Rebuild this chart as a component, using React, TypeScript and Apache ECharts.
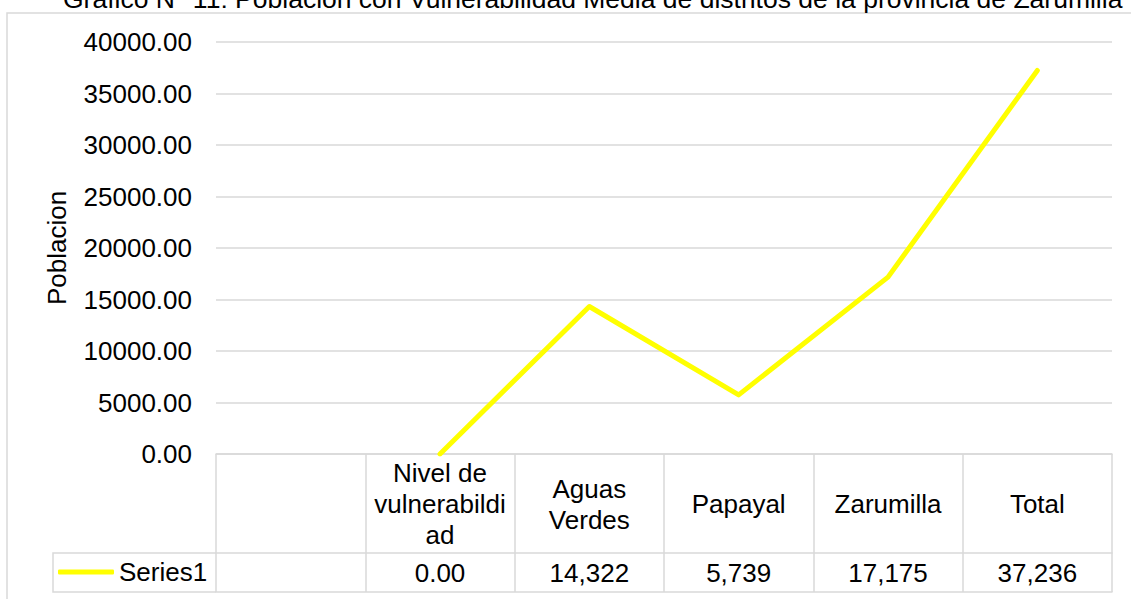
import React, { useEffect, useRef } from "react";
import * as echarts from "echarts";

const titleText =
  "Gráfico N° 11: Población con Vulnerabilidad Media de distritos de la provincia de Zarumilla";
const seriesName = "Series1";
const yAxisName = "Poblacion";
const categories = [
  "",
  "Nivel de\nvulnerabildi\nad",
  "Aguas\nVerdes",
  "Papayal",
  "Zarumilla",
  "Total",
];
const population: (number | null)[] = [null, 0, 14322, 5739, 17175, 37236];
const yMin = 0;
const yMax = 40000;
const yStep = 5000;

const FONT = "'Liberation Sans', Arial, Helvetica, sans-serif";
const GRID_COLOR = "#d9d9d9";
const LINE_COLOR = "#FFFF00";

const valueLabels = population.map((v) =>
  v == null ? "" : v === 0 ? "0.00" : v.toLocaleString("en-US")
);

export default function App() {
  const ref = useRef<HTMLDivElement>(null);

  useEffect(() => {
    document.body.style.margin = "0";
    if (!ref.current) return;
    const chart = echarts.init(ref.current, undefined, { renderer: "svg" });

    const grid = { left: 216, right: 19, top: 42, bottom: 145 };

    chart.setOption({
      animation: false,
      backgroundColor: "#ffffff",
      textStyle: { fontFamily: FONT },
      grid,
      legend: {
        data: [{ name: seriesName, icon: "roundRect" }],
        left: 58,
        top: 559,
        padding: 0,
        itemWidth: 56,
        itemHeight: 5,
        textStyle: { fontFamily: FONT, fontSize: 26, color: "#000" },
      },
      xAxis: [
        {
          type: "category",
          data: categories,
          boundaryGap: true,
          position: "bottom",
          axisLine: { show: true, lineStyle: { color: GRID_COLOR, width: 1.5 } },
          axisTick: {
            show: true,
            interval: 0,
            length: 138,
            lineStyle: { color: GRID_COLOR, width: 1.5 },
          },
          axisLabel: {
            interval: 0,
            margin: 50,
            verticalAlign: "middle",
            align: "center",
            lineHeight: 31,
            fontFamily: FONT,
            fontSize: 26,
            color: "#000",
          },
        },
        {
          type: "category",
          data: valueLabels,
          boundaryGap: true,
          position: "bottom",
          offset: 99,
          axisLine: { show: true, lineStyle: { color: GRID_COLOR, width: 1.5 } },
          axisTick: { show: false },
          axisLabel: {
            interval: 0,
            margin: 19.5,
            verticalAlign: "middle",
            align: "center",
            fontFamily: FONT,
            fontSize: 26,
            color: "#000",
          },
        },
        {
          type: "category",
          data: categories,
          boundaryGap: true,
          position: "bottom",
          offset: 138,
          axisLine: { show: true, lineStyle: { color: GRID_COLOR, width: 1.5 } },
          axisTick: { show: false },
          axisLabel: { show: false },
        },
      ],
      yAxis: {
        type: "value",
        min: yMin,
        max: yMax,
        interval: yStep,
        name: yAxisName,
        nameLocation: "middle",
        nameGap: 146,
        nameTextStyle: { fontFamily: FONT, fontSize: 26, color: "#000" },
        axisLine: { show: false },
        axisTick: { show: false },
        splitLine: { show: true, lineStyle: { color: GRID_COLOR, width: 1.5 } },
        axisLabel: {
          margin: 24,
          fontFamily: FONT,
          fontSize: 26,
          color: "#000",
          formatter: (v: number) => v.toFixed(2),
        },
      },
      series: [
        {
          name: seriesName,
          type: "line",
          xAxisIndex: 0,
          data: population.map((v) => (v == null ? "-" : v)),
          color: LINE_COLOR,
          symbol: "none",
          showSymbol: false,
          connectNulls: false,
          lineStyle: { color: LINE_COLOR, width: 5, cap: "round", join: "round" },
          itemStyle: { color: LINE_COLOR },
        },
      ],
      graphic: [
        {
          type: "rect",
          shape: { x: 7, y: 13, width: 1200, height: 640 },
          style: { fill: "none", stroke: GRID_COLOR, lineWidth: 1.5 },
          silent: true,
        },
        {
          type: "polyline",
          shape: {
            points: [
              [216, 553],
              [53, 553],
              [53, 592],
              [216, 592],
            ],
          },
          style: { fill: "none", stroke: GRID_COLOR, lineWidth: 1.5 },
          silent: true,
        },
        {
          type: "text",
          x: 63,
          y: -1,
          style: {
            text: titleText,
            fontFamily: FONT,
            fontSize: 26.5,
            fill: "#000",
            verticalAlign: "middle",
            align: "left",
          },
          silent: true,
        },
      ],
    });

    return () => {
      chart.dispose();
    };
  }, []);

  return <div ref={ref} style={{ width: 1131, height: 599 }} />;
}
